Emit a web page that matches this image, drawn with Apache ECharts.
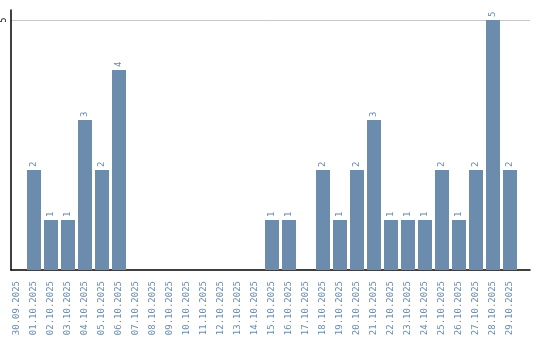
<!DOCTYPE html>
<html><head><meta charset="utf-8">
<script src="https://cdn.jsdelivr.net/npm/echarts@6/dist/echarts.min.js"></script>
<style>html,body{margin:0;padding:0;background:#fff}#c{width:540px;height:340px}</style>
</head><body><div id="c"></div>
<script>
const categories = ["30.09.2025","01.10.2025","02.10.2025","03.10.2025","04.10.2025","05.10.2025","06.10.2025","07.10.2025","08.10.2025","09.10.2025","10.10.2025","11.10.2025","12.10.2025","13.10.2025","14.10.2025","15.10.2025","16.10.2025","17.10.2025","18.10.2025","19.10.2025","20.10.2025","21.10.2025","22.10.2025","23.10.2025","24.10.2025","25.10.2025","26.10.2025","27.10.2025","28.10.2025","29.10.2025"];
const values = [0,2,1,1,3,2,4,0,0,0,0,0,0,0,0,1,1,0,2,1,2,3,1,1,1,2,1,2,5,2];
const yTicks = [0,5];

const chart = echarts.init(document.getElementById('c'));
const blue = '#6b8cac';
const font = "'DejaVu Sans Mono', monospace";
chart.setOption({
  animation: false,
  grid: [
    {left: 10, right: 10, top: 10, bottom: 70},
    {left: 8.5, right: 21.5, top: 10, bottom: 70}
  ],
  xAxis: [
    {gridIndex: 0, type: 'category', data: [''], axisLine: {lineStyle: {color: '#000', width: 1.5}}, axisTick: {show: false}, axisLabel: {show: false}},
    {gridIndex: 1, type: 'category', data: categories, axisLine: {show: false}, axisTick: {show: false},
     axisLabel: {rotate: 90, interval: 0, color: blue, fontSize: 9, fontFamily: font, margin: 11}}
  ],
  yAxis: [
    {gridIndex: 0, type: 'value', min: yTicks[0], max: 5.2, interval: yTicks[1],
     axisLine: {show: true, lineStyle: {color: '#000', width: 1.5}}, axisTick: {show: false},
     splitLine: {show: true, showMinLine: false, showMaxLine: false, lineStyle: {color: '#c8c8c8', width: 1}},
     axisLabel: {showMinLabel: false, showMaxLabel: false, rotate: 90, color: '#000', fontSize: 8, fontFamily: font, margin: 3,
       formatter: v => (yTicks.indexOf(v) >= 0 ? String(v) : '')}},
    {gridIndex: 1, type: 'value', min: 0, max: 5.2, show: false}
  ],
  series: [{
    type: 'bar', xAxisIndex: 1, yAxisIndex: 1, data: values, barWidth: 14,
    itemStyle: {color: blue},
    label: {show: true, position: 'top', rotate: 90, align: 'left', verticalAlign: 'middle', distance: 3,
      color: blue, fontSize: 9, fontFamily: font,
      formatter: p => p.value > 0 ? String(p.value) : ''}
  }]
});
</script></body></html>
